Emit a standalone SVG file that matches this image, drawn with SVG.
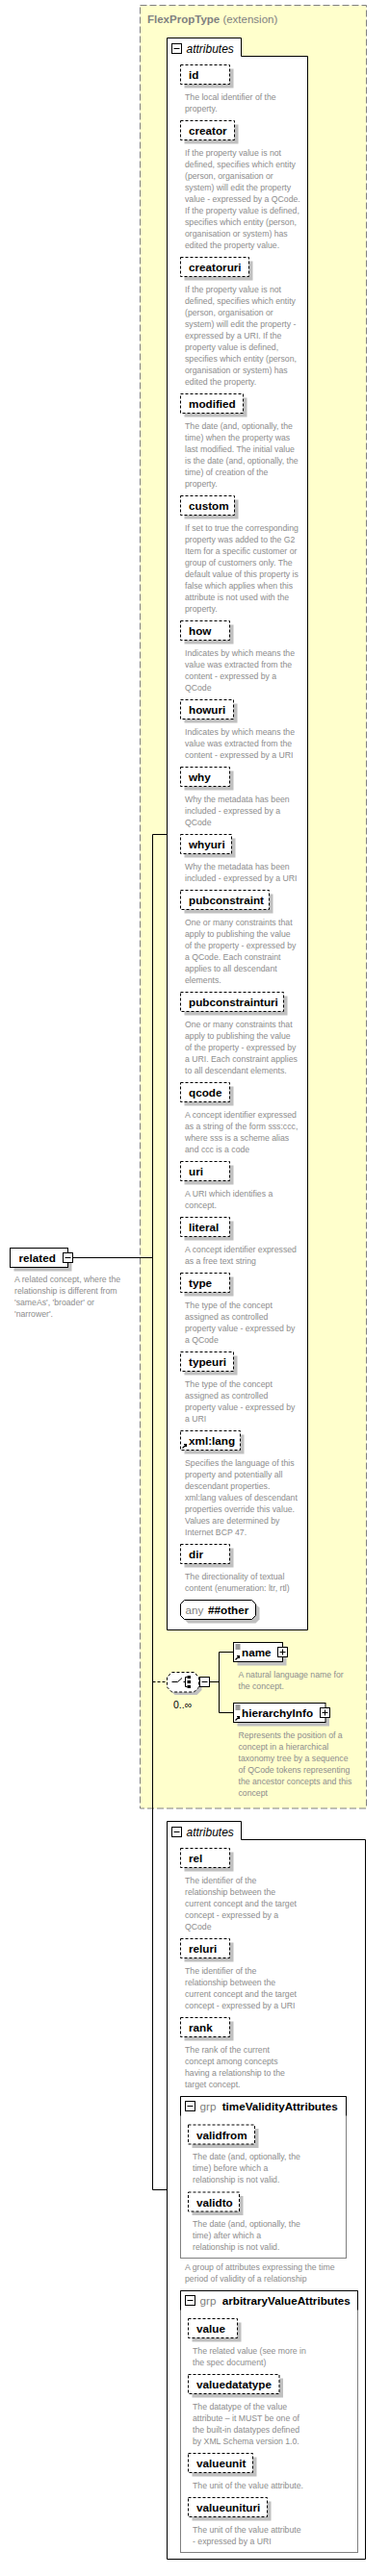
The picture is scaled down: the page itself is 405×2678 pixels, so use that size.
<svg xmlns="http://www.w3.org/2000/svg" width="405" height="2678" viewBox="0 0 405 2678">
<style>
.lbl{font-family:"Liberation Sans",Arial,sans-serif;font-weight:bold;font-size:11.7px;fill:#000}
.desc{font-family:"Liberation Sans",Arial,sans-serif;font-size:8.7px;fill:#8c8c8c}
.grey{font-family:"Liberation Sans",Arial,sans-serif;font-size:11.7px;fill:#808080}
.ital{font-family:"Liberation Sans",Arial,sans-serif;font-style:italic;font-size:12px;fill:#000}
.sh{fill:#c0c0c0}
.attr{fill:#fff;stroke:#000;stroke-width:1;stroke-dasharray:3,2}
.el{fill:#fff;stroke:#000;stroke-width:1}
.ln{fill:none;stroke:#000;stroke-width:1}
.gbox{fill:none;stroke:#808080;stroke-width:1}
</style>
<defs>
<g id="minus"><rect x="0" y="0" width="10" height="10" fill="#fff" stroke="#000"/><path d="M2,5H8" stroke="#000"/></g>
<g id="plus"><rect x="0" y="0" width="10" height="10" fill="#fff" stroke="#000"/><path d="M2,5H8M5,2V8" stroke="#000"/></g>
<g id="refarrow"><path d="M1,6L5,2M2.5,2H5V4.5" fill="none" stroke="#000" stroke-width="1.2"/></g>
<g id="lines3"><path d="M0,0.5H5M0,2.5H5M0,4.5H5" stroke="#000" stroke-width="0.8"/></g>
</defs>

<!-- FlexPropType extension box -->
<g id="FlexPropType">
<rect x="145.5" y="5.5" width="235" height="1874.5" fill="#ffffcc" stroke="#808080" stroke-dasharray="7,3"/>
<text x="153" y="24" font-family="Liberation Sans,Arial,sans-serif" font-size="11.5" fill="#808080"><tspan font-weight="bold">FlexPropType</tspan> (extension)</text>
</g>

<!-- connectors -->
<g id="connectors">
<path class="ln" d="M75.5,1307.5H158.5"/>
<path class="ln" d="M158.5,867.5V2276.5"/>
<path class="ln" d="M158.5,867.5H173.5"/>
<path class="ln" d="M158.5,2276.5H173.5"/>
<path class="ln" d="M158.5,1748.5H173.5" stroke-dasharray="3,2"/>
<path class="ln" d="M217.5,1748.5H227.5M227.5,1717.5V1780.5M227.5,1717.5H242.5M227.5,1780.5H242.5"/>
</g>

<!-- related -->
<g id="related">
<rect class="sh" x="14.5" y="1301.5" width="60" height="20"/>
<rect class="el" x="10.5" y="1297.5" width="60" height="20"/>
<text class="lbl" x="19.5" y="1312">related</text>
<use href="#minus" x="65.5" y="1302.5"/>
<text class="desc" x="15" y="1333"><tspan x="15">A related concept, where the</tspan><tspan x="15" dy="12">relationship is different from</tspan><tspan x="15" dy="12">'sameAs', 'broader' or</tspan><tspan x="15" dy="12">'narrower'.</tspan></text>
</g>

<!-- attributes 1 -->
<g id="attributes1">
<path class="el" d="M173.5,39.5H250.5V58.5H319.5V1694.5H173.5Z"/>
<use href="#minus" x="178.5" y="45.5"/>
<text class="ital" x="193.5" y="54.5">attributes</text>
</g>

<g id="attr-id"><rect class="sh" x="191.5" y="71.5" width="51" height="20"/><rect class="attr" x="187.5" y="67.5" width="51" height="20"/><text class="lbl" x="196" y="82">id</text>
<text class="desc" x="192" y="103.5"><tspan x="192">The local identifier of the</tspan><tspan x="192" dy="12">property.</tspan></text></g>

<g id="attr-creator"><rect class="sh" x="191.5" y="129.5" width="56" height="20"/><rect class="attr" x="187.5" y="125.5" width="56" height="20"/><text class="lbl" x="196" y="140">creator</text>
<text class="desc" x="192" y="161.5"><tspan x="192">If the property value is not</tspan><tspan x="192" dy="12">defined, specifies which entity</tspan><tspan x="192" dy="12">(person, organisation or</tspan><tspan x="192" dy="12">system) will edit the property</tspan><tspan x="192" dy="12">value - expressed by a QCode.</tspan><tspan x="192" dy="12">If the property value is defined,</tspan><tspan x="192" dy="12">specifies which entity (person,</tspan><tspan x="192" dy="12">organisation or system) has</tspan><tspan x="192" dy="12">edited the property value.</tspan></text></g>

<g id="attr-creatoruri"><rect class="sh" x="191.5" y="271.5" width="71" height="20"/><rect class="attr" x="187.5" y="267.5" width="71" height="20"/><text class="lbl" x="196" y="282">creatoruri</text>
<text class="desc" x="192" y="303.5"><tspan x="192">If the property value is not</tspan><tspan x="192" dy="12">defined, specifies which entity</tspan><tspan x="192" dy="12">(person, organisation or</tspan><tspan x="192" dy="12">system) will edit the property -</tspan><tspan x="192" dy="12">expressed by a URI. If the</tspan><tspan x="192" dy="12">property value is defined,</tspan><tspan x="192" dy="12">specifies which entity (person,</tspan><tspan x="192" dy="12">organisation or system) has</tspan><tspan x="192" dy="12">edited the property.</tspan></text></g>

<g id="attr-modified"><rect class="sh" x="191.5" y="413.5" width="65" height="20"/><rect class="attr" x="187.5" y="409.5" width="65" height="20"/><text class="lbl" x="196" y="424">modified</text>
<text class="desc" x="192" y="445.5"><tspan x="192">The date (and, optionally, the</tspan><tspan x="192" dy="12">time) when the property was</tspan><tspan x="192" dy="12">last modified. The initial value</tspan><tspan x="192" dy="12">is the date (and, optionally, the</tspan><tspan x="192" dy="12">time) of creation of the</tspan><tspan x="192" dy="12">property.</tspan></text></g>

<g id="attr-custom"><rect class="sh" x="191.5" y="519.5" width="56" height="20"/><rect class="attr" x="187.5" y="515.5" width="56" height="20"/><text class="lbl" x="196" y="530">custom</text>
<text class="desc" x="192" y="551.5"><tspan x="192">If set to true the corresponding</tspan><tspan x="192" dy="12">property was added to the G2</tspan><tspan x="192" dy="12">Item for a specific customer or</tspan><tspan x="192" dy="12">group of customers only. The</tspan><tspan x="192" dy="12">default value of this property is</tspan><tspan x="192" dy="12">false which applies when this</tspan><tspan x="192" dy="12">attribute is not used with the</tspan><tspan x="192" dy="12">property.</tspan></text></g>

<g id="attr-how"><rect class="sh" x="191.5" y="649.5" width="51" height="20"/><rect class="attr" x="187.5" y="645.5" width="51" height="20"/><text class="lbl" x="196" y="660">how</text>
<text class="desc" x="192" y="681.5"><tspan x="192">Indicates by which means the</tspan><tspan x="192" dy="12">value was extracted from the</tspan><tspan x="192" dy="12">content - expressed by a</tspan><tspan x="192" dy="12">QCode</tspan></text></g>

<g id="attr-howuri"><rect class="sh" x="191.5" y="731.5" width="55" height="20"/><rect class="attr" x="187.5" y="727.5" width="55" height="20"/><text class="lbl" x="196" y="742">howuri</text>
<text class="desc" x="192" y="763.5"><tspan x="192">Indicates by which means the</tspan><tspan x="192" dy="12">value was extracted from the</tspan><tspan x="192" dy="12">content - expressed by a URI</tspan></text></g>

<g id="attr-why"><rect class="sh" x="191.5" y="801.5" width="51" height="20"/><rect class="attr" x="187.5" y="797.5" width="51" height="20"/><text class="lbl" x="196" y="812">why</text>
<text class="desc" x="192" y="833.5"><tspan x="192">Why the metadata has been</tspan><tspan x="192" dy="12">included - expressed by a</tspan><tspan x="192" dy="12">QCode</tspan></text></g>

<g id="attr-whyuri"><rect class="sh" x="191.5" y="871.5" width="53" height="20"/><rect class="attr" x="187.5" y="867.5" width="53" height="20"/><text class="lbl" x="196" y="882">whyuri</text>
<text class="desc" x="192" y="903.5"><tspan x="192">Why the metadata has been</tspan><tspan x="192" dy="12">included - expressed by a URI</tspan></text></g>

<g id="attr-pubconstraint"><rect class="sh" x="191.5" y="929.5" width="92" height="20"/><rect class="attr" x="187.5" y="925.5" width="92" height="20"/><text class="lbl" x="196" y="940">pubconstraint</text>
<text class="desc" x="192" y="961.5"><tspan x="192">One or many constraints that</tspan><tspan x="192" dy="12">apply to publishing the value</tspan><tspan x="192" dy="12">of the property - expressed by</tspan><tspan x="192" dy="12">a QCode. Each constraint</tspan><tspan x="192" dy="12">applies to all descendant</tspan><tspan x="192" dy="12">elements.</tspan></text></g>

<g id="attr-pubconstrainturi"><rect class="sh" x="191.5" y="1035.5" width="107" height="20"/><rect class="attr" x="187.5" y="1031.5" width="107" height="20"/><text class="lbl" x="196" y="1046">pubconstrainturi</text>
<text class="desc" x="192" y="1067.5"><tspan x="192">One or many constraints that</tspan><tspan x="192" dy="12">apply to publishing the value</tspan><tspan x="192" dy="12">of the property - expressed by</tspan><tspan x="192" dy="12">a URI. Each constraint applies</tspan><tspan x="192" dy="12">to all descendant elements.</tspan></text></g>

<g id="attr-qcode"><rect class="sh" x="191.5" y="1129.5" width="51" height="20"/><rect class="attr" x="187.5" y="1125.5" width="51" height="20"/><text class="lbl" x="196" y="1140">qcode</text>
<text class="desc" x="192" y="1161.5"><tspan x="192">A concept identifier expressed</tspan><tspan x="192" dy="12">as a string of the form sss:ccc,</tspan><tspan x="192" dy="12">where sss is a scheme alias</tspan><tspan x="192" dy="12">and ccc is a code</tspan></text></g>

<g id="attr-uri"><rect class="sh" x="191.5" y="1211.5" width="51" height="20"/><rect class="attr" x="187.5" y="1207.5" width="51" height="20"/><text class="lbl" x="196" y="1222">uri</text>
<text class="desc" x="192" y="1243.5"><tspan x="192">A URI which identifies a</tspan><tspan x="192" dy="12">concept.</tspan></text></g>

<g id="attr-literal"><rect class="sh" x="191.5" y="1269.5" width="51" height="20"/><rect class="attr" x="187.5" y="1265.5" width="51" height="20"/><text class="lbl" x="196" y="1280">literal</text>
<text class="desc" x="192" y="1301.5"><tspan x="192">A concept identifier expressed</tspan><tspan x="192" dy="12">as a free text string</tspan></text></g>

<g id="attr-type"><rect class="sh" x="191.5" y="1327.5" width="51" height="20"/><rect class="attr" x="187.5" y="1323.5" width="51" height="20"/><text class="lbl" x="196" y="1338">type</text>
<text class="desc" x="192" y="1359.5"><tspan x="192">The type of the concept</tspan><tspan x="192" dy="12">assigned as controlled</tspan><tspan x="192" dy="12">property value - expressed by</tspan><tspan x="192" dy="12">a QCode</tspan></text></g>

<g id="attr-typeuri"><rect class="sh" x="191.5" y="1409.5" width="55" height="20"/><rect class="attr" x="187.5" y="1405.5" width="55" height="20"/><text class="lbl" x="196" y="1420">typeuri</text>
<text class="desc" x="192" y="1441.5"><tspan x="192">The type of the concept</tspan><tspan x="192" dy="12">assigned as controlled</tspan><tspan x="192" dy="12">property value - expressed by</tspan><tspan x="192" dy="12">a URI</tspan></text></g>

<g id="attr-xmllang"><rect class="sh" x="191.5" y="1491.5" width="62" height="20"/><rect class="attr" x="187.5" y="1487.5" width="62" height="20"/><text class="lbl" x="196" y="1502">xml:lang</text><use href="#refarrow" x="188.5" y="1499.5"/>
<text class="desc" x="192" y="1523.5"><tspan x="192">Specifies the language of this</tspan><tspan x="192" dy="12">property and potentially all</tspan><tspan x="192" dy="12">descendant properties.</tspan><tspan x="192" dy="12">xml:lang values of descendant</tspan><tspan x="192" dy="12">properties override this value.</tspan><tspan x="192" dy="12">Values are determined by</tspan><tspan x="192" dy="12">Internet BCP 47.</tspan></text></g>

<g id="attr-dir"><rect class="sh" x="191.5" y="1609.5" width="51" height="20"/><rect class="attr" x="187.5" y="1605.5" width="51" height="20"/><text class="lbl" x="196" y="1620">dir</text>
<text class="desc" x="192" y="1641.5"><tspan x="192">The directionality of textual</tspan><tspan x="192" dy="12">content (enumeration: ltr, rtl)</tspan></text></g>

<g id="any-other">
<path class="sh" d="M195.5,1667.5H265.5L269.5,1671.5V1683.5L265.5,1687.5H195.5L191.5,1683.5V1671.5Z"/>
<path class="el" d="M191.5,1663.5H261.5L265.5,1667.5V1679.5L261.5,1683.5H191.5L187.5,1679.5V1667.5Z"/>
<text class="grey" x="192.5" y="1678">any</text><text class="lbl" x="216" y="1678">##other</text>
</g>

<!-- sequence -->
<g id="sequence">
<path class="sh" d="M181.5,1741.5H204.5L209.5,1746.5V1757L204.5,1762H181.5L176.5,1757V1746.5Z"/>
<path fill="#fff" stroke="#000" stroke-dasharray="3,2" d="M178.5,1738.5H201.5L206.5,1743.5V1754L201.5,1759H178.5L173.5,1754V1743.5Z"/>
<path class="ln" d="M178.5,1748.5H184.5L189,1744.5M190.5,1748.5H192.5M192.5,1743.5V1753.5M192.5,1743.5H194.5M192.5,1753.5H194.5"/>
<rect x="194.5" y="1742" width="3.5" height="3" fill="#000"/>
<rect x="194.5" y="1747" width="3.5" height="3" fill="#000"/>
<rect x="194.5" y="1752" width="3.5" height="3" fill="#000"/>
<use href="#minus" x="207.5" y="1743.5"/>
<text x="180" y="1776" font-family="Liberation Sans,Arial,sans-serif" font-size="10.5" fill="#000">0..∞</text>
</g>

<g id="el-name">
<rect class="sh" x="246.5" y="1711.5" width="51" height="20"/>
<rect class="el" x="242.5" y="1707.5" width="51" height="20"/>
<use href="#lines3" x="244.5" y="1709.5"/><use href="#refarrow" x="243.5" y="1719.5"/>
<text class="lbl" x="251" y="1722">name</text>
<use href="#plus" x="288.5" y="1712.5"/>
<text class="desc" x="247.5" y="1743.5"><tspan x="247.5">A natural language name for</tspan><tspan x="247.5" dy="12">the concept.</tspan></text>
</g>

<g id="el-hierarchyInfo">
<rect class="sh" x="246.5" y="1774.5" width="95.5" height="20"/>
<rect class="el" x="242.5" y="1770.5" width="95.5" height="20"/>
<use href="#lines3" x="244.5" y="1772.5"/><use href="#refarrow" x="243.5" y="1782.5"/>
<text class="lbl" x="251" y="1785">hierarchyInfo</text>
<use href="#plus" x="332.5" y="1775.5"/>
<text class="desc" x="247.5" y="1806.5"><tspan x="247.5">Represents the position of a</tspan><tspan x="247.5" dy="12">concept in a hierarchical</tspan><tspan x="247.5" dy="12">taxonomy tree by a sequence</tspan><tspan x="247.5" dy="12">of QCode tokens representing</tspan><tspan x="247.5" dy="12">the ancestor concepts and this</tspan><tspan x="247.5" dy="12">concept</tspan></text>
</g>

<!-- attributes 2 -->
<g id="attributes2">
<path class="el" d="M173.5,1893.5H250.5V1912.5H379.5V2660.5H173.5Z"/>
<use href="#minus" x="178.5" y="1899.5"/>
<text class="ital" x="193.5" y="1908.5">attributes</text>
</g>

<g id="attr-rel"><rect class="sh" x="191.5" y="1925.5" width="51" height="20"/><rect class="attr" x="187.5" y="1921.5" width="51" height="20"/><text class="lbl" x="196" y="1936">rel</text>
<text class="desc" x="192" y="1957.5"><tspan x="192">The identifier of the</tspan><tspan x="192" dy="12">relationship between the</tspan><tspan x="192" dy="12">current concept and the target</tspan><tspan x="192" dy="12">concept - expressed by a</tspan><tspan x="192" dy="12">QCode</tspan></text></g>

<g id="attr-reluri"><rect class="sh" x="191.5" y="2019.5" width="51" height="20"/><rect class="attr" x="187.5" y="2015.5" width="51" height="20"/><text class="lbl" x="196" y="2030">reluri</text>
<text class="desc" x="192" y="2051.5"><tspan x="192">The identifier of the</tspan><tspan x="192" dy="12">relationship between the</tspan><tspan x="192" dy="12">current concept and the target</tspan><tspan x="192" dy="12">concept - expressed by a URI</tspan></text></g>

<g id="attr-rank"><rect class="sh" x="191.5" y="2101.5" width="51" height="20"/><rect class="attr" x="187.5" y="2097.5" width="51" height="20"/><text class="lbl" x="196" y="2112">rank</text>
<text class="desc" x="192" y="2133.5"><tspan x="192">The rank of the current</tspan><tspan x="192" dy="12">concept among concepts</tspan><tspan x="192" dy="12">having a relationship to the</tspan><tspan x="192" dy="12">target concept.</tspan></text></g>

<g id="grp-timeValidityAttributes">
<rect class="gbox" x="187.5" y="2179.5" width="172" height="168"/>
<path class="ln" d="M187.5,2199.5V2179.5H359.5V2199.5"/>
<use href="#minus" x="192.5" y="2184.5"/>
<text class="grey" x="207.5" y="2194">grp</text><text class="lbl" x="230.7" y="2194">timeValidityAttributes</text>
<text class="desc" x="192" y="2359.5"><tspan x="192">A group of attributes expressing the time</tspan><tspan x="192" dy="12">period of validity of a relationship</tspan></text>
</g>

<g id="attr-validfrom"><rect class="sh" x="199.5" y="2213" width="69" height="20"/><rect class="attr" x="195.5" y="2209" width="69" height="20"/><text class="lbl" x="204" y="2223.5">validfrom</text>
<text class="desc" x="200" y="2245"><tspan x="200">The date (and, optionally, the</tspan><tspan x="200" dy="12">time) before which a</tspan><tspan x="200" dy="12">relationship is not valid.</tspan></text></g>

<g id="attr-validto"><rect class="sh" x="199.5" y="2283" width="53" height="20"/><rect class="attr" x="195.5" y="2279" width="53" height="20"/><text class="lbl" x="204" y="2293.5">validto</text>
<text class="desc" x="200" y="2315"><tspan x="200">The date (and, optionally, the</tspan><tspan x="200" dy="12">time) after which a</tspan><tspan x="200" dy="12">relationship is not valid.</tspan></text></g>

<g id="grp-arbitraryValueAttributes">
<rect class="gbox" x="187.5" y="2381.5" width="184" height="272"/>
<path class="ln" d="M187.5,2401.5V2381.5H371.5V2401.5"/>
<use href="#minus" x="192.5" y="2386.5"/>
<text class="grey" x="207.5" y="2396">grp</text><text class="lbl" x="230.7" y="2396">arbitraryValueAttributes</text>
</g>

<g id="attr-value"><rect class="sh" x="199.5" y="2414.5" width="51" height="20"/><rect class="attr" x="195.5" y="2410.5" width="51" height="20"/><text class="lbl" x="204" y="2425">value</text>
<text class="desc" x="200" y="2446.5"><tspan x="200">The related value (see more in</tspan><tspan x="200" dy="12">the spec document)</tspan></text></g>

<g id="attr-valuedatatype"><rect class="sh" x="199.5" y="2472.5" width="94.5" height="20"/><rect class="attr" x="195.5" y="2468.5" width="94.5" height="20"/><text class="lbl" x="204" y="2483">valuedatatype</text>
<text class="desc" x="200" y="2504.5"><tspan x="200">The datatype of the value</tspan><tspan x="200" dy="12">attribute – it MUST be one of</tspan><tspan x="200" dy="12">the built-in datatypes defined</tspan><tspan x="200" dy="12">by XML Schema version 1.0.</tspan></text></g>

<g id="attr-valueunit"><rect class="sh" x="199.5" y="2554.5" width="67" height="20"/><rect class="attr" x="195.5" y="2550.5" width="67" height="20"/><text class="lbl" x="204" y="2565">valueunit</text>
<text class="desc" x="200" y="2586.5">The unit of the value attribute.</text></g>

<g id="attr-valueunituri"><rect class="sh" x="199.5" y="2600.5" width="82" height="20"/><rect class="attr" x="195.5" y="2596.5" width="82" height="20"/><text class="lbl" x="204" y="2611">valueunituri</text>
<text class="desc" x="200" y="2632.5"><tspan x="200">The unit of the value attribute</tspan><tspan x="200" dy="12">- expressed by a URI</tspan></text></g>
</svg>
